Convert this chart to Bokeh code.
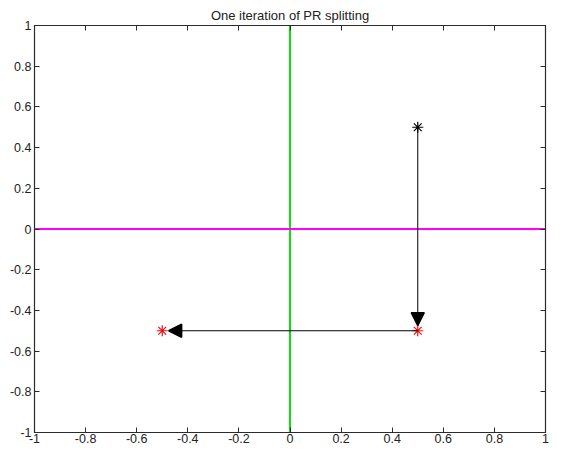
from bokeh.plotting import figure
from bokeh.models import (Range1d, FixedTicker, LinearAxis, Arrow, NormalHead,
                          ColumnDataSource)
from bokeh.embed import file_html
from bokeh.resources import INLINE

# --- data ---
tick_vals = [-1, -0.8, -0.6, -0.4, -0.2, 0, 0.2, 0.4, 0.6, 0.8, 1]
tick_labels = ["-1", "-0.8", "-0.6", "-0.4", "-0.2", "0", "0.2", "0.4", "0.6", "0.8", "1"]
iter_x = [0.5, 0.5, -0.5]      # iterate positions
iter_y = [0.5, -0.5, -0.5]
start_x = [0.5]                # starting point (black)
start_y = [0.5]
result_x = [0.5, -0.5]         # results of each step (red)
result_y = [-0.5, -0.5]
arrow_scale = 0.975            # quiver-like shortening of arrows

FONT = "Liberation Sans"

p = figure(width=550, height=448, output_backend="svg", toolbar_location=None,
           x_range=Range1d(-1, 1), y_range=Range1d(-1, 1),
           title="One iteration of PR splitting",
           min_border_left=34, min_border_right=5, min_border_top=25, min_border_bottom=16)

p.title.align = "center"
p.title.text_font = FONT
p.title.text_font_size = "13px"
p.title.text_font_style = "normal"
p.title.text_color = "#222222"
p.title.offset = 0
p.title.standoff = 6

p.xgrid.visible = False
p.ygrid.visible = False
p.outline_line_color = "#2b2b2b"
p.outline_line_width = 1.2
p.background_fill_color = "white"
p.border_fill_color = "white"

overrides = {v: l for v, l in zip(tick_vals, tick_labels)}
for ax in (p.xaxis[0], p.yaxis[0]):
    ax.ticker = FixedTicker(ticks=tick_vals)
    ax.major_label_overrides = overrides
    ax.major_tick_in = 5
    ax.major_tick_out = 0
    ax.minor_tick_line_color = None
    ax.axis_line_color = "#2b2b2b"
    ax.major_tick_line_color = "#2b2b2b"
    ax.major_label_text_font = FONT
    ax.major_label_text_font_size = "12.5px"
    ax.major_label_text_color = "#222222"
    ax.major_label_standoff = 3
p.xaxis[0].major_label_standoff = 1

# top and right tick-only axes
for loc in ("above", "right"):
    ax = LinearAxis(ticker=FixedTicker(ticks=tick_vals), major_label_text_font_size="0px",
                    major_tick_in=5, major_tick_out=0, minor_tick_line_color=None,
                    axis_line_color="#2b2b2b", major_tick_line_color="#2b2b2b",
                    major_label_standoff=0)
    ax.major_label_text_color = None
    p.add_layout(ax, loc)

# coordinate lines
p.line(x=[0, 0], y=[-1, 1], line_color="#22d022", line_width=2.2)
p.line(x=[-1, 1], y=[0, 0], line_color="#ff00ff", line_width=2.2)

# arrows between consecutive iterates
x0 = iter_x[:-1]
y0 = iter_y[:-1]
x1 = [a + arrow_scale * (b - a) for a, b in zip(iter_x[:-1], iter_x[1:])]
y1 = [a + arrow_scale * (b - a) for a, b in zip(iter_y[:-1], iter_y[1:])]
src = ColumnDataSource(dict(x0=x0, y0=y0, x1=x1, y1=y1))
p.add_layout(Arrow(end=NormalHead(size=13, fill_color="black", line_color="black", line_width=1.5),
                   x_start="x0", y_start="y0", x_end="x1", y_end="y1",
                   source=src, line_color="black", line_width=1))

# markers
p.scatter(start_x, start_y, marker="asterisk", size=11, line_color="black", line_width=1.2)
p.scatter(result_x, result_y, marker="asterisk", size=11, line_color="#ee1111", line_width=1.2)

open("out.html", "w").write(file_html(p, INLINE))
